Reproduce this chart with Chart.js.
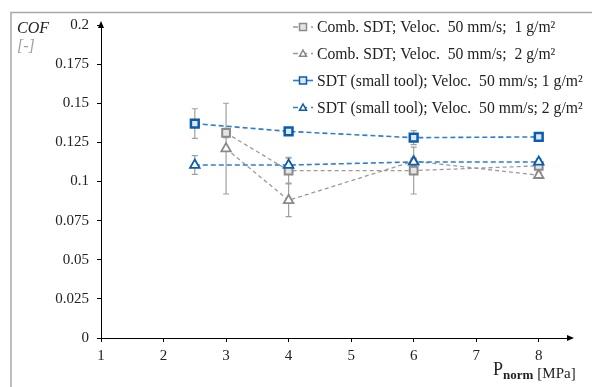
<!DOCTYPE html>
<html>
<head>
<meta charset="utf-8">
<script src="https://cdn.jsdelivr.net/npm/chart.js@4/dist/chart.umd.min.js"></script>
<style>
  body { margin: 0; background: #fff; }
  #wrap { width: 593px; height: 387px; }
</style>
</head>
<body>
<div id="wrap"><canvas id="cofChart" width="593" height="387"></canvas></div>
<script>
// pressures (MPa) for each test set
const xComb = [3, 4, 6, 8];
const xSmall = [2.5, 4, 6, 8];

// COF values
const comb1 = [0.131, 0.107, 0.107, 0.110];
const comb1Err = [0.003, 0.008, 0.015, 0.002];
const comb2 = [0.121, 0.088, 0.113, 0.104];
const comb2Err = [0.029, 0.0105, 0.002, 0.002];
const small1 = [0.137, 0.132, 0.128, 0.1285];
const small1Err = [0.0095, 0.001, 0.0045, 0.001];
const small2 = [0.1105, 0.1105, 0.1125, 0.1125];
const small2Err = [0.006, 0.005, 0.002, 0.002];

const seriesNames = [
  'Comb. SDT; Veloc.  50 mm/s;  1 g/m²',
  'Comb. SDT; Veloc.  50 mm/s;  2 g/m²',
  'SDT (small tool); Veloc.  50 mm/s; 1 g/m²',
  'SDT (small tool); Veloc.  50 mm/s; 2 g/m²'
];

const xTicks = [1, 2, 3, 4, 5, 6, 7, 8];
const yTicks = [0, 0.025, 0.05, 0.075, 0.1, 0.125, 0.15, 0.175, 0.2];
const yTickLabels = ['0', '0.025', '0.05', '0.075', '0.1', '0.125', '0.15', '0.175', '0.2'];

const SERIF = "'Liberation Serif', 'Times New Roman', 'DejaVu Serif', serif";
const GRAY = '#8a8a8a';
const BLUE = '#0b5cad';
const BLUE_LINE = '#2a7fd0';

function pts(xs, ys) {
  return xs.map((x, i) => ({ x: x, y: ys[i] }));
}

// blue sets sit on top of the gray ones (lower order = drawn last)
const datasets = [
  {
    label: seriesNames[0], data: pts(xComb, comb1), err: comb1Err, order: 2,
    borderColor: '#9a9a9a', borderWidth: 1.3, borderDash: [4, 3],
    pointStyle: 'rect', pointRadius: 5.5, pointBorderWidth: 2,
    pointBorderColor: GRAY, pointBackgroundColor: '#e4e4e4'
  },
  {
    label: seriesNames[1], data: pts(xComb, comb2), err: comb2Err, order: 3,
    borderColor: '#9a9a9a', borderWidth: 1.3, borderDash: [4, 3],
    pointStyle: 'triangle', pointRadius: 5.5, pointBorderWidth: 1.8,
    pointBorderColor: GRAY, pointBackgroundColor: '#ffffff'
  },
  {
    label: seriesNames[2], data: pts(xSmall, small1), err: small1Err, order: 0,
    borderColor: BLUE_LINE, borderWidth: 1.6, borderDash: [5, 3],
    pointStyle: 'rect', pointRadius: 5.5, pointBorderWidth: 2.5,
    pointBorderColor: BLUE, pointBackgroundColor: '#dbe8f7'
  },
  {
    label: seriesNames[3], data: pts(xSmall, small2), err: small2Err, order: 1,
    borderColor: BLUE_LINE, borderWidth: 1.6, borderDash: [5, 3],
    pointStyle: 'triangle', pointRadius: 5.5, pointBorderWidth: 1.8,
    pointBorderColor: BLUE, pointBackgroundColor: '#ffffff'
  }
];

// error bars, drawn under the markers
const errorBars = {
  id: 'errorBars',
  beforeDatasetsDraw(chart) {
    const ctx = chart.ctx;
    const xs = chart.scales.x, ys = chart.scales.y;
    ctx.save();
    ctx.strokeStyle = '#a0a0a0';
    ctx.lineWidth = 1.2;
    chart.data.datasets.forEach(ds => {
      ds.data.forEach((p, i) => {
        const e = ds.err[i];
        if (!e) return;
        const px = xs.getPixelForValue(p.x);
        const top = ys.getPixelForValue(p.y + e);
        const bot = ys.getPixelForValue(p.y - e);
        ctx.beginPath();
        ctx.moveTo(px, top); ctx.lineTo(px, bot);
        ctx.moveTo(px - 3, top); ctx.lineTo(px + 3, top);
        ctx.moveTo(px - 3, bot); ctx.lineTo(px + 3, bot);
        ctx.stroke();
      });
    });
    ctx.restore();
  }
};

function marker(ctx, style, x, y, r, color, fill, lw) {
  ctx.save();
  ctx.setLineDash([]);
  ctx.strokeStyle = color;
  ctx.fillStyle = fill;
  ctx.lineWidth = lw;
  ctx.beginPath();
  if (style === 'rect') {
    ctx.rect(x - r, y - r, 2 * r, 2 * r);
  } else {
    ctx.moveTo(x, y - r);
    ctx.lineTo(x + r, y + r * 0.8);
    ctx.lineTo(x - r, y + r * 0.8);
    ctx.closePath();
  }
  ctx.fill();
  ctx.stroke();
  ctx.restore();
}

// frame, axis arrows, axis titles and legend
const decorations = {
  id: 'decorations',
  beforeDraw(chart) {
    const ctx = chart.ctx;
    ctx.save();
    ctx.strokeStyle = '#a8a8a8';
    ctx.lineWidth = 1.5;
    ctx.beginPath();
    ctx.moveTo(11, 400); ctx.lineTo(11, 12.5); ctx.lineTo(592, 12.5);
    ctx.stroke();
    ctx.restore();
  },
  afterDraw(chart) {
    const ctx = chart.ctx;
    const a = chart.chartArea;
    ctx.save();
    // arrows
    ctx.fillStyle = '#000';
    ctx.beginPath();
    ctx.moveTo(a.left, a.top - 4); ctx.lineTo(a.left - 3, a.top + 3); ctx.lineTo(a.left + 3, a.top + 3);
    ctx.closePath(); ctx.fill();
    ctx.beginPath();
    ctx.moveTo(a.right + 4, a.bottom); ctx.lineTo(a.right - 3, a.bottom - 3); ctx.lineTo(a.right - 3, a.bottom + 3);
    ctx.closePath(); ctx.fill();

    // y title
    ctx.textBaseline = 'middle';
    ctx.textAlign = 'left';
    ctx.font = 'italic 16px ' + SERIF;
    ctx.fillStyle = '#222';
    ctx.fillText('COF', 17, 29);
    ctx.fillStyle = '#a0a0a0';
    ctx.fillText('[-]', 17, 47);

    // x title: P_norm [MPa]
    ctx.textBaseline = 'alphabetic';
    ctx.fillStyle = '#222';
    ctx.font = '18px ' + SERIF;
    let x = 493;
    ctx.fillText('P', x, 375);
    x += ctx.measureText('P').width;
    ctx.font = 'bold 13px ' + SERIF;
    ctx.fillText('norm', x, 379);
    x += ctx.measureText('norm').width + 4;
    ctx.font = '15px ' + SERIF;
    ctx.fillText('[MPa]', x, 378);

    // legend
    const rows = [27, 53.5, 80.5, 107.5];
    chart.data.datasets.forEach((ds, i) => {
      const y = rows[i];
      ctx.save();
      ctx.strokeStyle = ds.borderColor;
      ctx.lineWidth = ds.borderWidth;
      ctx.setLineDash(i === 2 ? [] : [5, 4]);
      ctx.beginPath();
      ctx.moveTo(293, y); ctx.lineTo(313, y);
      ctx.stroke();
      ctx.restore();
      marker(ctx, ds.pointStyle, 303, y, 3.5, ds.pointBorderColor, ds.pointBackgroundColor, 1.5);
      ctx.font = '15.7px ' + SERIF;
      ctx.fillStyle = '#222';
      ctx.textBaseline = 'middle';
      ctx.fillText(ds.label, 317, y + 1);
    });
    ctx.restore();
  }
};

function draw() {
  new Chart(document.getElementById('cofChart'), {
    type: 'line',
    data: { datasets: datasets },
    options: {
      responsive: false,
      animation: false,
      layout: { padding: { left: 0, top: 25, right: 23, bottom: 0 } },
      plugins: { legend: { display: false }, tooltip: { enabled: false } },
      scales: {
        x: {
          type: 'linear', min: 1, max: 8.5,
          afterFit: s => { s.height = 49; },
          afterBuildTicks: s => { s.ticks = xTicks.map(v => ({ value: v })); },
          grid: { drawOnChartArea: false, drawTicks: true, tickLength: 4, color: '#000' },
          border: { display: true, color: '#000', width: 1 },
          ticks: { color: '#222', padding: 5, font: { family: SERIF, size: 15 }, maxRotation: 0 }
        },
        y: {
          type: 'linear', min: 0, max: 0.2,
          afterFit: s => { s.width = 101; },
          afterBuildTicks: s => { s.ticks = yTicks.map(v => ({ value: v })); },
          grid: { drawOnChartArea: false, drawTicks: true, tickLength: 4, color: '#000' },
          border: { display: true, color: '#000', width: 1 },
          ticks: {
            color: '#222', padding: 8, font: { family: SERIF, size: 15 },
            callback: (v, i) => yTickLabels[i]
          }
        }
      }
    },
    plugins: [errorBars, decorations]
  });
}

Promise.all([
  document.fonts.load("16px 'Liberation Serif'"),
  document.fonts.load("italic 16px 'Liberation Serif'"),
  document.fonts.load("bold 13px 'Liberation Serif'")
]).then(draw, draw);
</script>
</body>
</html>
